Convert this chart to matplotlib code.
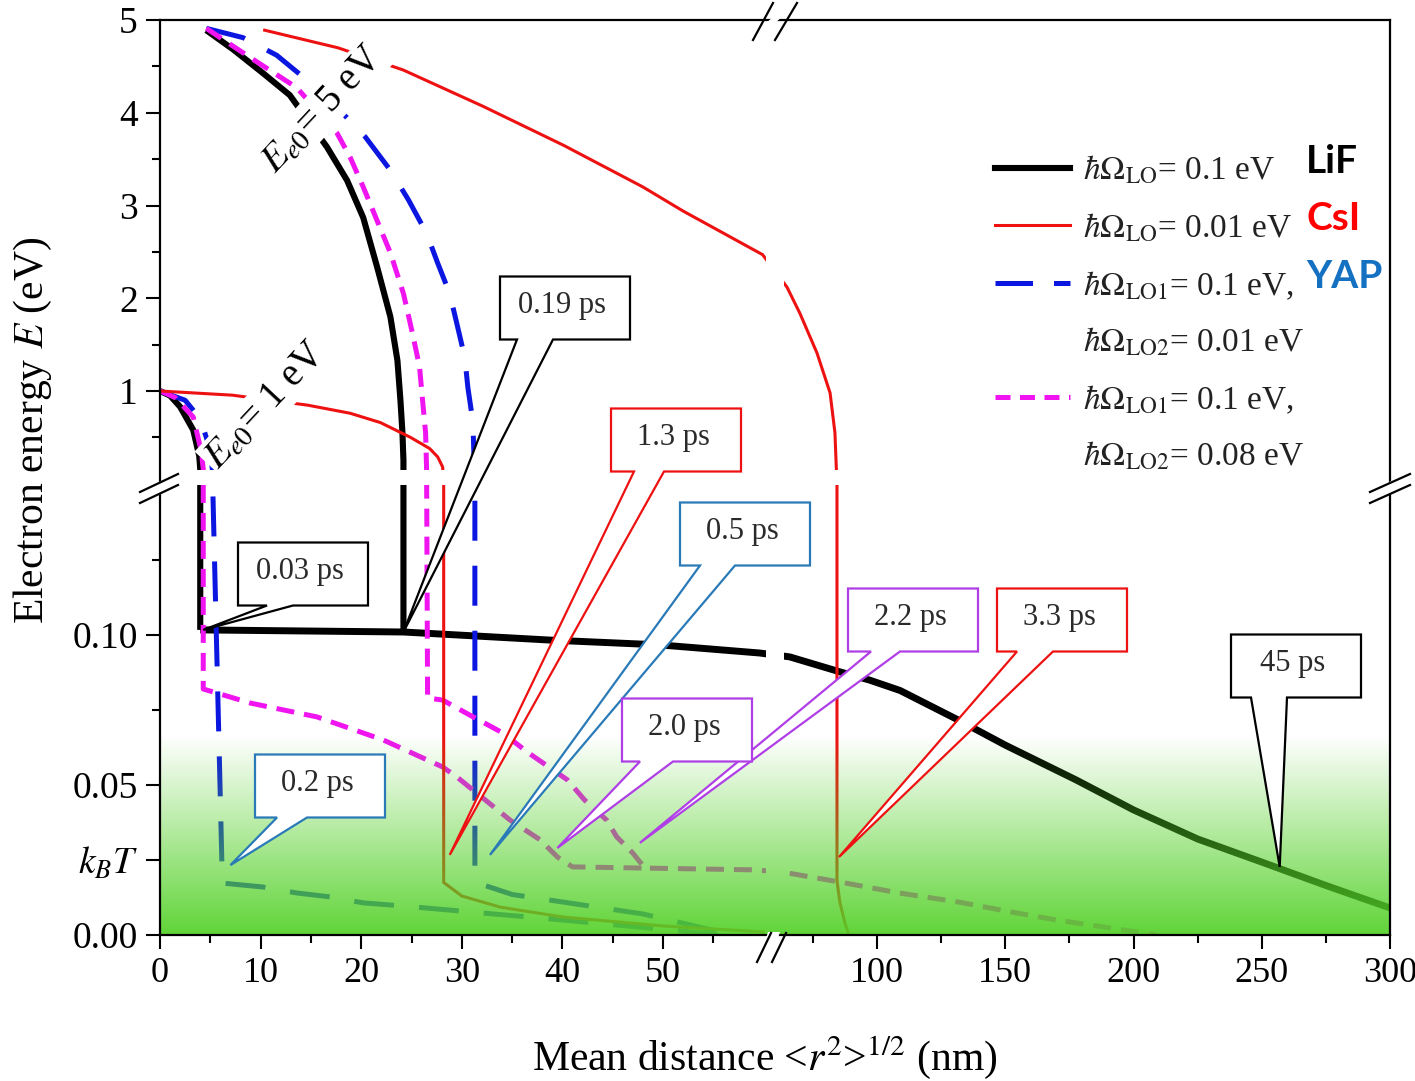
import numpy as np
import matplotlib
matplotlib.use('Agg')
import matplotlib.pyplot as plt
from matplotlib.patches import Polygon, Rectangle
from matplotlib.lines import Line2D

plt.rcParams['font.family'] = ['Liberation Serif', 'DejaVu Serif']
plt.rcParams['mathtext.fontset'] = 'stix'

# ---------------- data (x: mean distance nm, E: electron energy eV) ----------------
# LiF (black)
black5_x = [4.6, 7.3, 10.2, 12.9, 16.6, 18.6, 20.2, 21.6, 22.9, 23.6, 23.9, 24.1, 24.2, 24.2]
black5_E = [4.89, 4.68, 4.43, 4.19, 3.63, 3.27, 2.87, 2.33, 1.80, 1.33, 0.90, 0.55, 0.25, 0.101]
black1_x = [0.0, 1.0, 2.0, 3.3, 3.9, 4.0, 4.0]
black1_E = [1.0, 0.95, 0.83, 0.58, 0.30, 0.16, 0.1017]
blacklow_x = [4.0, 24.2, 38.8, 49.7, 59.6, 66.0, 85.6, 97.0, 109.0, 131.6, 150.0, 177.6, 200.0, 225.0, 250.0, 275.0, 300.0]
blacklow_E = [0.1017, 0.101, 0.0983, 0.0967, 0.094, 0.0927, 0.0877, 0.085, 0.0815, 0.0717, 0.0633, 0.0517, 0.0417,
              0.032, 0.0243, 0.0165, 0.009]
# CsI (red)
red5_x = [10.4, 17.7, 24.2, 32.1, 40.1, 48.0, 52.0, 59.9, 64.9, 69.9, 76.6, 81.7, 83.6, 84.4, 84.4, 85.5, 87.5, 89.0]
red5_E = [4.89, 4.70, 4.46, 4.07, 3.65, 3.20, 2.94, 2.47, 2.12, 1.84, 1.41, 0.98, 0.55, 0.15, 0.018, 0.011, 0.004, 0.0]
red1_x = [0.0, 7.2, 14.7, 18.9, 21.9, 24.9, 26.8, 27.6, 28.1, 28.2, 28.2, 30.0, 33.8, 40.0, 50.0, 60.0]
red1_E = [1.0, 0.955, 0.847, 0.76, 0.66, 0.50, 0.38, 0.29, 0.18, 0.15, 0.0175, 0.013, 0.0093, 0.006, 0.003, 0.001]
# YAP (blue)
blue5_x = [4.6, 8.25, 11.6, 14.4, 17.4, 20.4, 22.9, 24.7, 26.5, 27.6, 28.8, 29.5, 30.3, 30.6, 31.1, 31.2, 31.3, 31.3,
           32.3, 35.0, 40.0, 48.0, 57.0]
blue5_E = [4.91, 4.81, 4.62, 4.37, 4.08, 3.74, 3.38, 3.06, 2.70, 2.38, 2.05, 1.73, 1.36, 1.04, 0.67, 0.33, 0.15, 0.02,
           0.0165, 0.0135, 0.011, 0.007, 0.0]
blue1_x = [0.0, 2.5, 4.0, 4.9, 5.2, 6.2, 10.2, 13.6, 16.9, 20.2, 24.0, 28.8, 32.1, 40.0, 48.0, 56.0]
blue1_E = [1.0, 0.9, 0.7, 0.4, 0.16, 0.0173, 0.016, 0.014, 0.0127, 0.0107, 0.0097, 0.0083, 0.0073, 0.005, 0.0025, 0.0]
# two-phonon (magenta)
mag5_x = [4.6, 8.9, 13.6, 17.6, 18.9, 20.2, 22.9, 24.2, 25.1, 25.8, 26.1, 26.4, 26.5, 26.6, 28.1, 30.8, 34.1, 36.5,
          40.5, 42.2, 44.4, 45.4, 47.0, 48.2, 59.3, 65.0, 85.2, 108.6, 131.6, 154.6, 170.0, 209.0]
mag5_E = [4.91, 4.60, 4.27, 3.78, 3.52, 3.20, 2.49, 2.05, 1.62, 1.26, 0.90, 0.55, 0.16, 0.079, 0.0783, 0.0733, 0.0673,
          0.061, 0.0517, 0.045, 0.0383, 0.0327, 0.0273, 0.0223, 0.0217, 0.0207, 0.0177, 0.014, 0.011, 0.0073, 0.005, 0.0]
mag1_x = [0.0, 1.5, 3.3, 4.1, 4.3, 4.3, 9.0, 15.6, 22.2, 28.1, 29.5, 34.8, 37.8, 39.5, 41.0, 48.2]
mag1_E = [1.0, 0.93, 0.72, 0.35, 0.16, 0.082, 0.0773, 0.0727, 0.065, 0.056, 0.0527, 0.0383, 0.0317, 0.026, 0.0227, 0.0223]

# callouts (times) and where they point
callout_text = ['0.03 ps', '0.19 ps', '1.3 ps', '0.5 ps', '2.2 ps', '3.3 ps', '45 ps', '2.0 ps', '0.2 ps']
callout_tip_x = [4.3, 24.2, 28.8, 32.8, 47.7, 85.2, 257.0, 39.5, 7.0]
callout_tip_E = [0.1017, 0.101, 0.0267, 0.0267, 0.0307, 0.026, 0.0227, 0.029, 0.0233]

legend_labels = [r'$\hbar\Omega_{\rm LO}$= 0.1 eV', r'$\hbar\Omega_{\rm LO}$= 0.01 eV',
                 r'$\hbar\Omega_{\rm LO1}$= 0.1 eV,', r'$\hbar\Omega_{\rm LO2}$= 0.01 eV',
                 r'$\hbar\Omega_{\rm LO1}$= 0.1 eV,', r'$\hbar\Omega_{\rm LO2}$= 0.08 eV']
materials = ['LiF', 'CsI', 'YAP']

xticks_major = [0, 10, 20, 30, 40, 50, 100, 150, 200, 250, 300]
xticks_minor = [5, 15, 25, 35, 45, 55, 75, 125, 175, 225, 275]
yticks_major = [0.0, 0.025, 0.05, 0.10, 1, 2, 3, 4, 5]
ytick_labels = ['0.00', r'$k_BT$', '0.05', '0.10', '1', '2', '3', '4', '5']
yticks_minor = [0.075, 0.125, 0.5, 1.5, 2.5, 3.5, 4.5]

# ---------------- broken-axis scales ----------------
XB = 61.4
EB = 0.15


def fx(x):
    x = np.asarray(x, dtype=float)
    return np.where(x <= XB, 10.06 * x, 717.0 + (x - 100.0) * 2.565)


def fx_inv(u):
    u = np.asarray(u, dtype=float)
    return np.where(u <= 10.06 * XB, u / 10.06, 100.0 + (u - 717.0) / 2.565)


def fy(e):
    e = np.asarray(e, dtype=float)
    return np.where(e <= EB, 3000.0 * e, 451.25 + 92.75 * e)


def fy_inv(v):
    v = np.asarray(v, dtype=float)
    vb = 451.25 + 92.75 * EB
    return np.where(v <= 3000 * EB, v / 3000.0, np.where(v < vb, EB, (v - 451.25) / 92.75))


W, H = 1415, 1081
fig = plt.figure(figsize=(W / 100, H / 100), dpi=100)
AX_L, AX_T, AX_W, AX_H = 160, 20, 1230, 915
ax = fig.add_axes([AX_L / W, (H - AX_T - AX_H) / H, AX_W / W, AX_H / H])
ax.set_xscale('function', functions=(fx, fx_inv))
ax.set_yscale('function', functions=(fy, fy_inv))


def P(X, Y):
    """image pixel (from top-left) -> axes fraction"""
    return ((X - AX_L) / AX_W, (AX_T + AX_H - Y) / AX_H)


RED = '#ee1111'
BLUE = '#0b16e0'
MAG = '#f014f0'

lw_b, lw_r, lw_d = 4.4, 2.2, 3.6
kw = dict(solid_joinstyle='round')
ax.plot(black5_x, black5_E, color='black', lw=lw_b, zorder=2.0, solid_capstyle='butt', **kw)
ax.plot(black1_x, black1_E, color='black', lw=lw_b, zorder=2.0, solid_capstyle='butt', **kw)
ax.plot(blacklow_x, blacklow_E, color='black', lw=5.0, zorder=2.0, solid_capstyle='butt', **kw)
ax.plot(blue5_x, blue5_E, color=BLUE, lw=lw_d, dashes=(8, 5), zorder=2.02)
ax.plot(blue1_x, blue1_E, color=BLUE, lw=lw_d, dashes=(8, 5), zorder=2.02)
ax.plot(mag5_x, mag5_E, color=MAG, lw=lw_d, dashes=(3.6, 2.0), zorder=2.03)
ax.plot(mag1_x, mag1_E, color=MAG, lw=lw_d, dashes=(3.6, 2.0), zorder=2.03)
ax.plot(red5_x, red5_E, color=RED, lw=lw_r, zorder=2.04, **kw)
ax.plot(red1_x, red1_E, color=RED, lw=lw_r, zorder=2.04, **kw)

# gaps at the axis breaks
x0b, _ = P(766, 0)
x1b, _ = P(784, 0)
ax.add_patch(Rectangle((x0b, 0), x1b - x0b, 1, transform=ax.transAxes, fc='white', ec='none', zorder=2.2))
_, y0b = P(0, 485)
_, y1b = P(0, 470)
ax.add_patch(Rectangle((0, y0b), 1, y1b - y0b, transform=ax.transAxes, fc='white', ec='none', zorder=2.2))

# green thermal gradient overlay (transparent at top, strong at bottom)
n = 256
alpha = np.linspace(0.93, 0.0, n)[:, None]
rgba = np.zeros((n, 2, 4))
rgba[..., 0] = 0.33
rgba[..., 1] = 0.82
rgba[..., 2] = 0.16
rgba[..., 3] = alpha
_, gtop = P(0, 735)
ax.imshow(rgba, extent=[0, 1, 0, gtop], transform=ax.transAxes, aspect='auto',
          origin='lower', zorder=2.5, interpolation='bilinear')

ax.set_xlim(0, 300)
ax.set_ylim(0, 5)

# ticks
ax.set_xticks(xticks_major)
ax.set_xticks(xticks_minor, minor=True)
ax.set_yticks(yticks_major)
ax.set_yticklabels(ytick_labels)
ax.set_yticks(yticks_minor, minor=True)
ax.tick_params(which='both', direction='out', top=False, right=False, width=1.5)
ax.tick_params(axis='x', labelsize=26)
ax.tick_params(axis='y', labelsize=27)
ax.tick_params(which='major', length=10, pad=6)
ax.tick_params(which='minor', length=6)
for s in ax.spines.values():
    s.set_linewidth(1.6)
    s.set_zorder(4)

# rotated labels
for txt, (X, Y) in [(r'$E_{e0}$= 5 eV', (322, 110)), (r'$E_{e0}$= 1 eV', (265, 406))]:
    ax.text(*P(X, Y), txt, transform=ax.transAxes, rotation=47, rotation_mode='anchor',
            ha='center', va='center', fontsize=28, zorder=3,
            bbox=dict(boxstyle='square,pad=0.05', fc='white', ec='none'))

# callouts
callout_color = ['black', 'black', RED, '#2a7ab8', '#b03ee6', RED, 'black', '#b03ee6', '#2a7ab8']
callout_box = [(303, 574), (565, 308), (676, 440), (745, 534), (913, 620), (1062, 620), (1296, 666), (687, 730), (320, 786)]
callout_tail = [(29, 55), (17, 53), (23, 53), (20, 55), (23, 52), (20, 56), (20, 56), (18, 51), (22, 52)]
inv = ax.transAxes.inverted()
for txt, col, (bx, by), (ta, tb), tx, te in zip(callout_text, callout_color, callout_box, callout_tail,
                                                 callout_tip_x, callout_tip_E):
    w, h = 130, 63
    tip = ax.transData.transform((tx, te))
    xl, xr = bx - w / 2, bx + w / 2
    yt, yb = H - (by - h / 2), H - (by + h / 2)
    verts = [(xl, yt), (xr, yt), (xr, yb), (xl + tb, yb), tuple(tip), (xl + ta, yb), (xl, yb)]
    poly = Polygon(inv.transform(verts), closed=True, transform=ax.transAxes, fc='white', ec=col,
                   lw=1.6, zorder=5, clip_on=False, joinstyle='miter')
    ax.add_patch(poly)
    ax.text(*P(bx - 3, by - 2), txt, transform=ax.transAxes, ha='center', va='center', fontsize=22,
            color='#2a2a2a', zorder=6)

# legend (manual)
rows = [168, 225, 283, 340, 397, 453]
handles = {0: dict(color='black', lw=4.4), 1: dict(color=RED, lw=2.2),
           2: dict(color=BLUE, lw=lw_d, dashes=(7.5, 4.2)), 4: dict(color=MAG, lw=lw_d, dashes=(3.0, 1.9))}
for i, (lab, Y) in enumerate(zip(legend_labels, rows)):
    if i in handles:
        xa, ya = P(995, Y)
        xb, _ = P(1070, Y)
        ax.add_line(Line2D([xa, xb], [ya, ya], transform=ax.transAxes, zorder=6, **handles[i]))
    ax.text(*P(1083, Y + 12), lab, transform=ax.transAxes, ha='left', va='baseline', fontsize=24,
            color='#222222', zorder=6)
for m, col, Y in zip(materials, ['black', '#ff0000', '#1470c0'], [173, 230, 288]):
    ax.text(*P(1306, Y), m, transform=ax.transAxes, ha='left', va='baseline', fontsize=28,
            fontweight='bold', family='Lato', color=col, zorder=6)

# axis labels
fig.text(33 / W, 1 - 430 / H, r'Electron energy $E$ (eV)', rotation=90, ha='center', va='center', fontsize=30)
fig.text(765 / W, 1 - 1058 / H, r'Mean distance <$r^2$>$^{1/2}$ (nm)', ha='center', va='center', fontsize=30)


# break marks
def brk(p1a, p1b, p2a, p2b, cut):
    poly = Polygon([P(*cut[0]), P(*cut[1]), P(*cut[2]), P(*cut[3])], closed=True, transform=ax.transAxes,
                   fc='white', ec='none', zorder=7, clip_on=False)
    ax.add_patch(poly)
    for a, b in [(p1a, p1b), (p2a, p2b)]:
        ax.add_line(Line2D([P(*a)[0], P(*b)[0]], [P(*a)[1], P(*b)[1]], transform=ax.transAxes,
                           color='black', lw=1.6, zorder=8, clip_on=False))


# top
brk((753, 40), (773, 3), (775, 40), (797, 3), [(765, 24), (774, 24), (783, 16), (774, 16)])
# bottom
brk((757, 962), (771, 933), (772, 962), (786, 933), [(766, 938), (778, 938), (780, 932), (768, 932)])
# left
brk((140, 492), (178, 474), (140, 503), (178, 485), [(157, 496), (163, 493), (163, 480), (157, 483)])
# right
brk((1370, 492), (1410, 474), (1370, 503), (1410, 485), [(1387, 496), (1393, 493), (1393, 480), (1387, 483)])

fig.savefig('out.png', dpi=100)
